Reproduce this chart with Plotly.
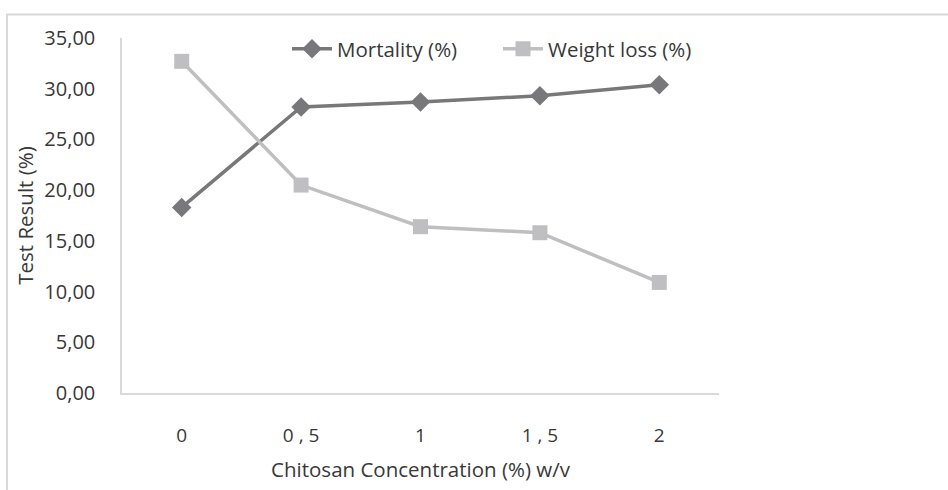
import plotly.graph_objects as go

categories = ["0", "0 , 5", "1", "1 , 5", "2"]
mortality = [18.3, 28.2, 28.7, 29.3, 30.4]
weight_loss = [32.7, 20.5, 16.4, 15.8, 10.9]
y_tick_vals = [0, 5, 10, 15, 20, 25, 30, 35]
y_tick_text = ["0,00", "5,00", "10,00", "15,00", "20,00", "25,00", "30,00", "35,00"]

FONT = "Open Sans"
TXT = "#383838"

fig = go.Figure()
fig.add_trace(go.Scatter(
    x=categories, y=mortality, name="Mortality (%)", mode="lines+markers",
    line=dict(color="#78787a", width=3.5),
    marker=dict(symbol="diamond", size=15, color="#78787a"),
))
fig.add_trace(go.Scatter(
    x=categories, y=weight_loss, name="Weight loss (%)", mode="lines+markers",
    line=dict(color="#bfbfc1", width=3.5),
    marker=dict(symbol="square", size=15, color="#bfbfc1"),
))

L, R, T, B = 122, 229, 38, 91
W, H = 948, 490
pw = W - L - R
ph = H - T - B

def px_to_paper_x(px):
    return (px - L) / pw

def px_to_paper_y(py):
    return (H - B - py) / ph

fig.add_shape(type="rect", xref="paper", yref="paper",
              x0=px_to_paper_x(7), x1=px_to_paper_x(990),
              y0=px_to_paper_y(530), y1=px_to_paper_y(14),
              line=dict(color="#d9d9d9", width=2), fillcolor="rgba(0,0,0,0)", layer="below")

fig.update_layout(
    width=W, height=H,
    margin=dict(l=L, r=R, t=T, b=B),
    paper_bgcolor="white", plot_bgcolor="white",
    font=dict(family=FONT, size=20, color=TXT),
    showlegend=True,
    legend=dict(orientation="h", x=px_to_paper_x(287), xanchor="left",
                y=px_to_paper_y(49), yanchor="middle",
                font=dict(family=FONT, size=20.5, color=TXT),
                entrywidth=156, entrywidthmode="pixels",
                bgcolor="rgba(0,0,0,0)", itemwidth=40, tracegroupgap=0),
    xaxis=dict(type="category", range=[-0.5, 4.5], showgrid=False, zeroline=False,
               showline=True, linecolor="#d9d9d9", linewidth=1.5, ticks="",
               tickfont=dict(family=FONT, size=19, color=TXT), ticklabelstandoff=24,
               title=dict(text="Chitosan Concentration (%) w/v", standoff=16,
                          font=dict(family=FONT, size=20.5, color=TXT))),
    yaxis=dict(range=[0, 35], showgrid=False, zeroline=False,
               showline=True, linecolor="#d9d9d9", linewidth=1.5, ticks="",
               tickvals=y_tick_vals, ticktext=y_tick_text,
               tickfont=dict(family=FONT, size=20, color=TXT), ticklabelstandoff=21,
               title=dict(text="Test Result (%)", standoff=5,
                          font=dict(family=FONT, size=20.5, color=TXT))),
)

fig.write_html("out.html")
